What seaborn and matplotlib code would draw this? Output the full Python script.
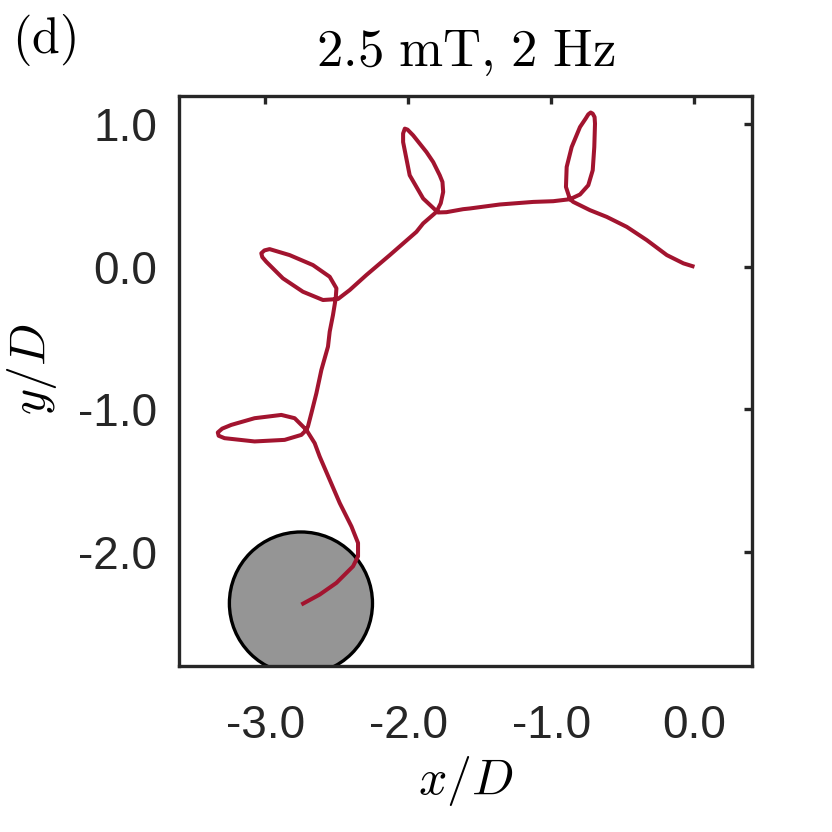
import numpy as np
import pandas as pd
import matplotlib
matplotlib.use("Agg")
import matplotlib.pyplot as plt
from matplotlib.patches import Circle
import seaborn as sns

# Trajectory (x/D, y/D), in order of travel
traj_x = [0.000, -0.077, -0.193, -0.333, -0.473, -0.613, -0.730, -0.847, -0.870,
          -0.898, -0.893, -0.858, -0.800, -0.760, -0.742, -0.725, -0.711, -0.698, -0.695, -0.700, -0.711,
          -0.742, -0.800, -0.870, -0.987, -1.127, -1.360, -1.570, -1.617, -1.733,
          -1.792, -1.896, -1.990, -2.036, -2.036, -2.024, -2.005, -1.966, -1.873, -1.826, -1.780, -1.761, -1.756,
          -1.773, -1.803, -1.896, -1.943, -2.129, -2.293, -2.409, -2.491,
          -2.596, -2.736, -2.876, -2.992, -3.020, -3.027, -3.005, -2.969, -2.829, -2.666, -2.549,
          -2.502, -2.507, -2.526, -2.549, -2.561, -2.607, -2.642, -2.677, -2.701,
          -2.712, -2.747, -2.864, -3.074, -3.284, -3.325, -3.331, -3.300, -3.237, -3.074, -2.887,
          -2.794, -2.712, -2.654, -2.619, -2.549, -2.479, -2.397, -2.351, -2.351,
          -2.386, -2.502, -2.619, -2.747]
traj_y = [0.000, 0.024, 0.082, 0.187, 0.280, 0.350, 0.397, 0.455, 0.474,
          0.560, 0.700, 0.840, 0.980, 1.040, 1.069, 1.082, 1.074, 1.050, 1.004, 0.840, 0.677,
          0.572, 0.507, 0.474, 0.460, 0.455, 0.437, 0.409, 0.404, 0.383,
          0.381, 0.479, 0.642, 0.875, 0.935, 0.969, 0.962, 0.922, 0.805, 0.735, 0.642, 0.595, 0.525,
          0.446, 0.385, 0.304, 0.245, 0.082, -0.058, -0.163, -0.226,
          -0.233, -0.175, -0.081, 0.035, 0.068, 0.095, 0.115, 0.124, 0.082, 0.012, -0.070,
          -0.151, -0.221, -0.338, -0.455, -0.560, -0.723, -0.887, -1.027, -1.120,
          -1.144, -1.179, -1.214, -1.225, -1.202, -1.185, -1.162, -1.135, -1.109, -1.062, -1.039,
          -1.062, -1.144, -1.237, -1.331, -1.494, -1.657, -1.821, -1.937, -2.031,
          -2.101, -2.217, -2.299, -2.369]

# Target body (circle)
target_center = (-2.75, -2.36)
target_radius = 0.5

x_ticks = [-3.0, -2.0, -1.0, 0.0]
y_ticks = [-2.0, -1.0, 0.0, 1.0]
x_tick_labels = ["-3.0", "-2.0", "-1.0", "0.0"]
y_tick_labels = ["-2.0", "-1.0", "0.0", "1.0"]

title_text = r"$\mathrm{2.5\ mT{,}\ 2\ Hz}$"
panel_text = r"$\mathrm{(d)}$"

sns.set_style("white")
plt.rcParams["font.family"] = ["Liberation Sans", "DejaVu Sans"]
plt.rcParams["mathtext.fontset"] = "cm"

fig = plt.figure(figsize=(8.32, 8.32), dpi=100)
ax = fig.add_axes([179.3 / 832, 1 - 666 / 832, 572.4 / 832, 570.3 / 832])

df = pd.DataFrame({"x": traj_x, "y": traj_y})

circ = Circle(target_center, target_radius, facecolor="#959595",
              edgecolor="black", linewidth=2.4, zorder=1)
ax.add_patch(circ)

sns.lineplot(data=df, x="x", y="y", sort=False, estimator=None,
             color="#A2142F", linewidth=2.9, ax=ax, zorder=3,
             solid_joinstyle="round", solid_capstyle="butt")

ax.set_xlim(-3.6, 0.4)
ax.set_ylim(-2.8, 1.2)
ax.set_xticks(x_ticks)
ax.set_xticklabels(x_tick_labels)
ax.set_yticks(y_ticks)
ax.set_yticklabels(y_tick_labels)

dark = "#262626"
for s in ax.spines.values():
    s.set_visible(True)
    s.set_color(dark)
    s.set_linewidth(2.4)

ax.tick_params(axis="both", which="major", direction="in", length=5.5,
               width=2.4, color=dark, labelcolor=dark, labelsize=33,
               top=True, right=True)
ax.tick_params(axis="x", pad=27)
ax.tick_params(axis="y", pad=16)

ax.set_xlabel(r"$x/D$", fontsize=36, color="black")
ax.set_ylabel(r"$y/D$", fontsize=36, color="black")
ax.xaxis.set_label_coords(0.5, -0.155)
ax.yaxis.set_label_coords(-0.21, 0.52)

fig.text(466 / 832, 1 - 66 / 832, title_text, ha="center", va="baseline",
         fontsize=38, color="black")
fig.text(12 / 832, 1 - 53 / 832, panel_text, ha="left", va="baseline",
         fontsize=36, color="black")

fig.savefig("out.png", dpi=100, facecolor="white")
